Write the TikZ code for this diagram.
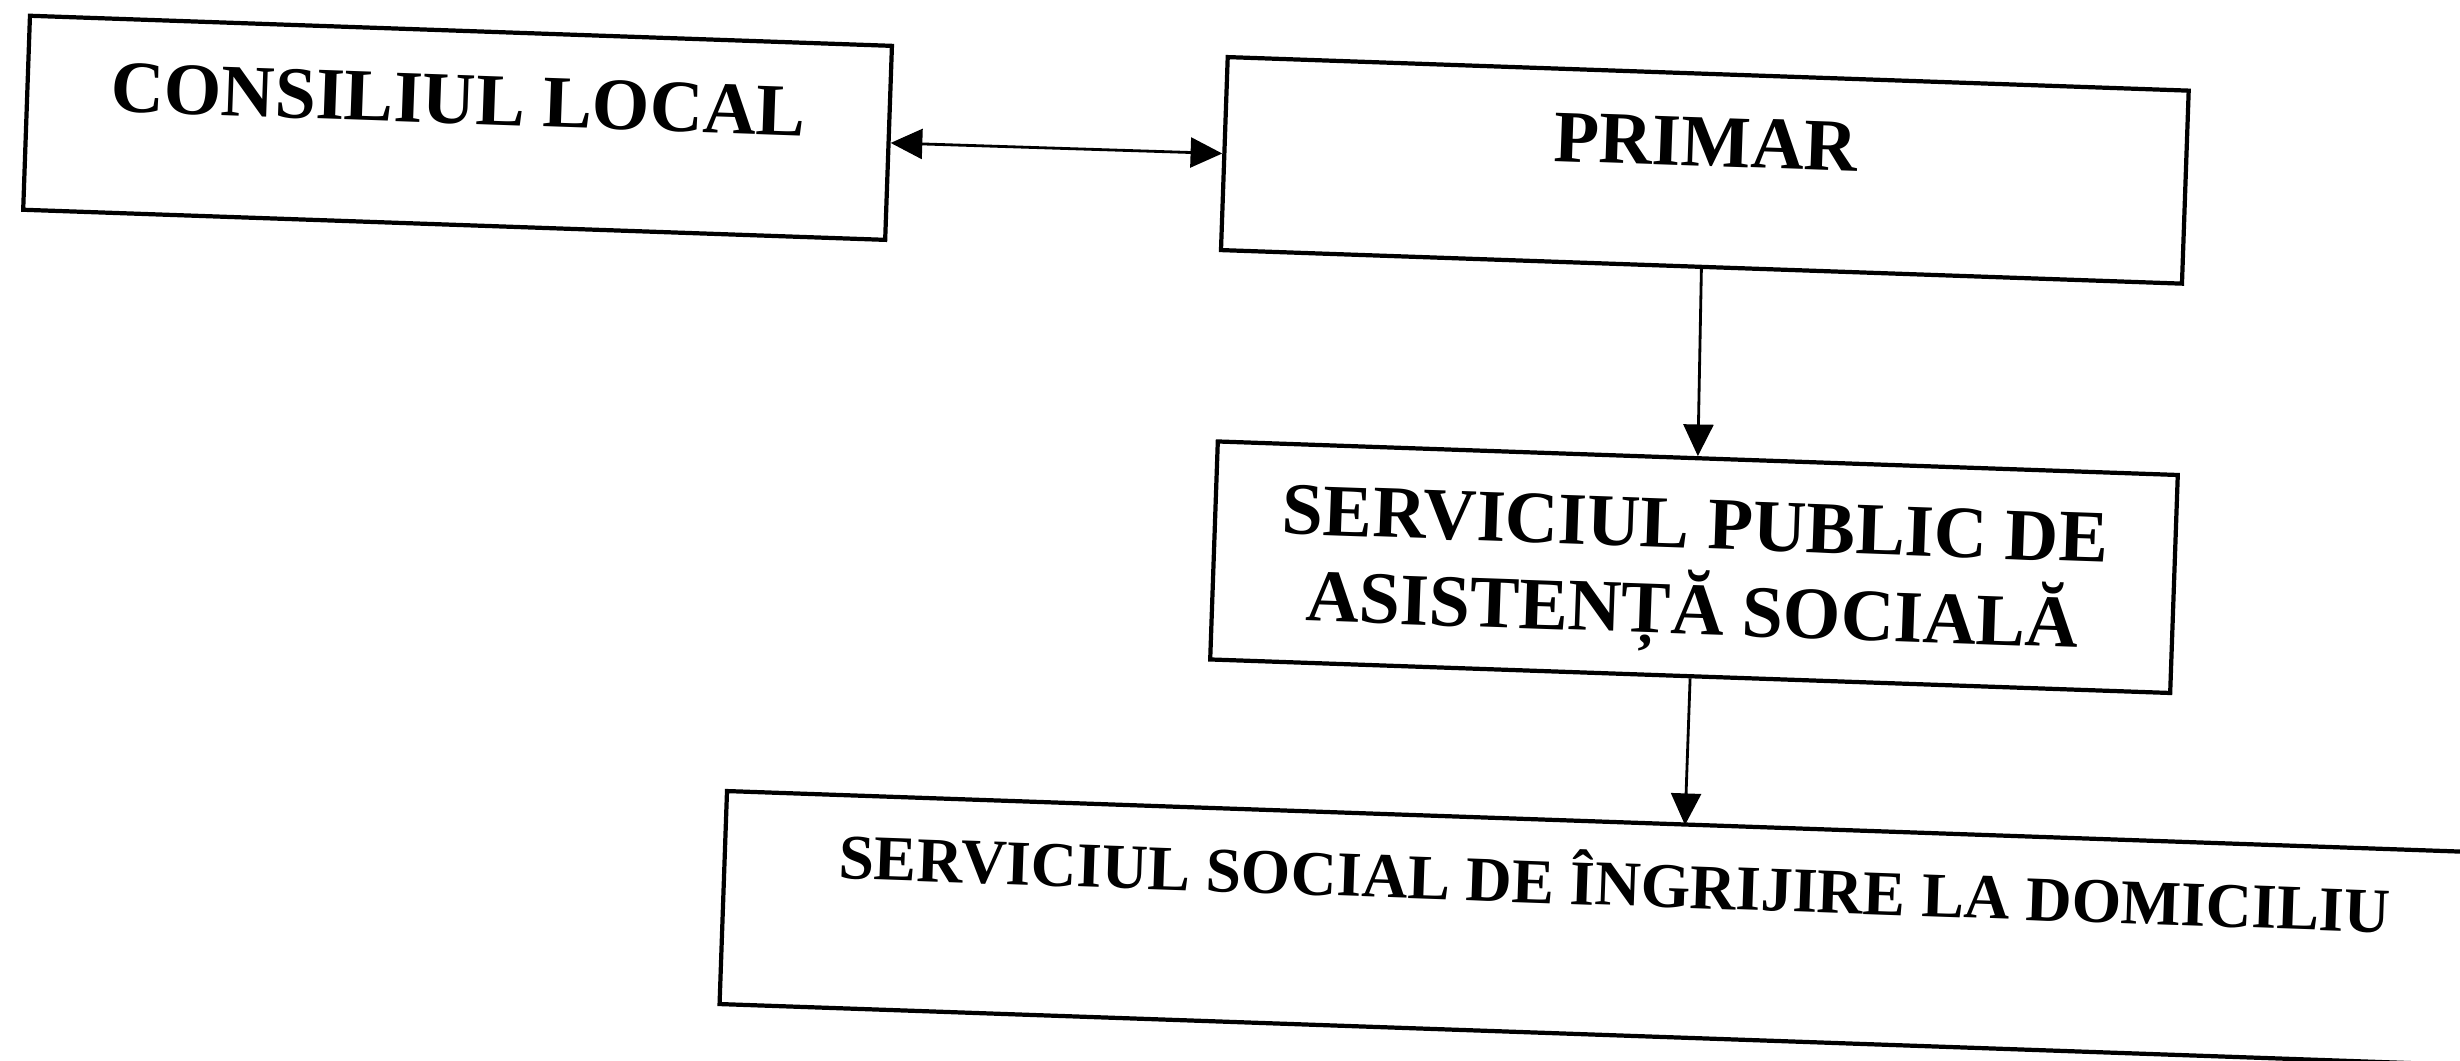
\documentclass[tikz,border=0pt]{standalone}
\usepackage{fontspec}
\setmainfont{Liberation Serif}
\usetikzlibrary{arrows.meta}
\begin{document}
\begin{tikzpicture}[x=0.01cm,y=-0.01cm,
  box/.style={draw=black,line width=1.2pt,inner sep=0pt},
  lbl/.style={font=\bfseries\fontsize{21pt}{24.5pt}\selectfont,inner sep=0pt,anchor=base},
  lblsm/.style={font=\bfseries\fontsize{18.1pt}{22pt}\selectfont,inner sep=0pt,anchor=base},
  conn/.style={line width=0.8pt,-{Triangle[length=9pt,width=8.5pt]}},
  dconn/.style={line width=0.8pt,{Triangle[length=9pt,width=8.5pt]}-{Triangle[length=9pt,width=8.5pt]}},
  ]
\useasboundingbox (0,0) rectangle (2460,1060);
\clip (0,0) rectangle (2460,1060);
\begin{scope}[rotate around={-2:(1230,530)},transform shape]
\node[box,minimum width=8.62cm,minimum height=1.94cm] (cl) at (444,155) {};
\node[lbl] (clt) at (444,151) {CONSILIUL LOCAL};
\node[box,minimum width=9.61cm,minimum height=1.93cm] (pr) at (1692,154) {};
\node[lbl] (prt) at (1692,150) {PRIMAR};
\node[box,minimum width=9.60cm,minimum height=2.18cm] (sp) at (1695,551) {};
\node[lbl,anchor=center,align=center] (spt) at (1695,560) {SERVICIUL PUBLIC DE\\ASISTENȚĂ SOCIALĂ};
\node[box,minimum width=20cm,minimum height=2.13cm] (ss) at (1737,915) {};
\node[lblsm] (sst) at (1627,892) {SERVICIUL SOCIAL DE ÎNGRIJIRE LA DOMICILIU};
\coordinate (ssin) at (1695,809);
\draw[dconn] (cl.east) -- (pr.west);
\draw[conn] (pr.south) -- (sp.north);
\draw[conn] (sp.south) -- (ssin);
\end{scope}
\end{tikzpicture}
\end{document}
